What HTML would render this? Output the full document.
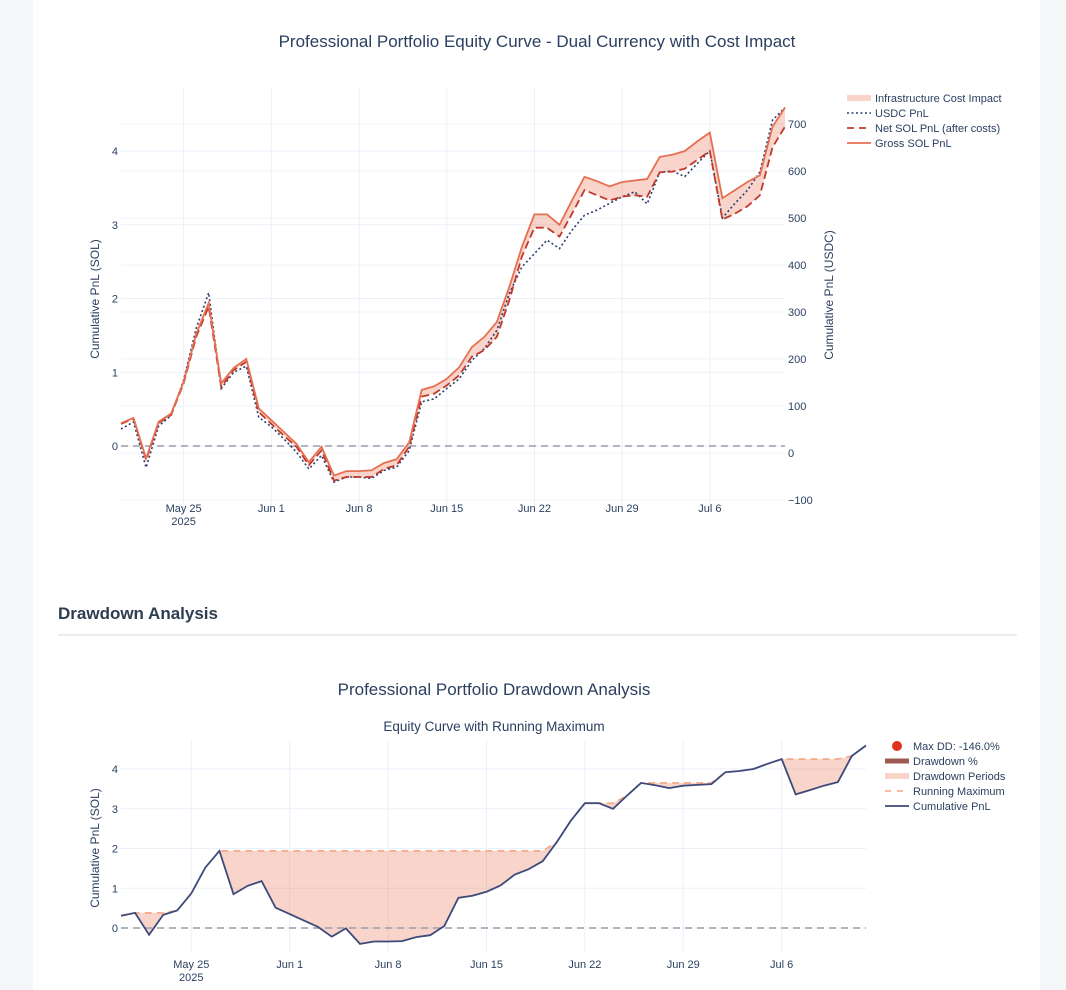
<!DOCTYPE html>
<html><head><meta charset="utf-8">
<style>
body{margin:0;background:#f5f6f8;font-family:"Liberation Sans",sans-serif;}
#card{position:absolute;left:33px;top:0;width:1007px;height:990px;background:#fff;}
svg{position:absolute;left:0;top:0;}
text{font-family:"Liberation Sans",sans-serif;}
</style></head><body>
<div id="card"></div>
<svg id="chart" width="1066" height="990">
<text x="537" y="47" text-anchor="middle" font-size="17" fill="#2a3f5f">Professional Portfolio Equity Curve - Dual Currency with Cost Impact</text>
<text x="58" y="619" font-size="17" font-weight="bold" fill="#2c3e50">Drawdown Analysis</text>
<line x1="58" y1="635" x2="1017" y2="635" stroke="#e3e5e8" stroke-width="1.5"/>
<text x="494" y="695" text-anchor="middle" font-size="17" fill="#2a3f5f">Professional Portfolio Drawdown Analysis</text>
<text x="494" y="731" text-anchor="middle" font-size="13.5" fill="#2a3f5f">Equity Curve with Running Maximum</text>
<g id="top"></g>
<g id="bot"></g>
</svg>
<script>
const startDate = "2025-05-20";
const grossSol = [0.31,0.38,-0.17,0.33,0.44,0.87,1.52,1.94,0.85,1.06,1.18,0.51,0.35,0.19,0.03,-0.22,-0.01,-0.40,-0.34,-0.34,-0.33,-0.23,-0.18,0.05,0.76,0.81,0.91,1.07,1.34,1.48,1.68,2.16,2.70,3.14,3.14,3.00,3.33,3.65,3.59,3.52,3.58,3.60,3.62,3.92,3.95,4.00,4.13,4.25,3.36,3.47,3.58,3.67,4.33,4.59];
const netSol = [0.30,0.37,-0.19,0.31,0.42,0.85,1.48,1.89,0.80,1.03,1.14,0.46,0.30,0.14,-0.01,-0.26,-0.06,-0.47,-0.42,-0.42,-0.42,-0.31,-0.26,-0.01,0.67,0.71,0.82,0.96,1.21,1.30,1.48,1.98,2.57,2.96,2.96,2.84,3.15,3.47,3.40,3.33,3.38,3.40,3.38,3.71,3.72,3.76,3.88,4.00,3.07,3.15,3.25,3.40,4.05,4.33];
const usdcPnl = [51,66,-31,57,80,155,265,341,137,172,185,76,56,30,2,-34,-5,-62,-51,-51,-54,-37,-30,5,109,115,137,158,197,222,261,340,396,424,453,435,474,506,517,531,545,556,530,597,600,588,616,643,500,531,559,598,708,735];
const xTicks = ["2025-05-25","2025-06-01","2025-06-08","2025-06-15","2025-06-22","2025-06-29","2025-07-06"];
const xTickLabels = ["May 25","Jun 1","Jun 8","Jun 15","Jun 22","Jun 29","Jul 6"];
const solTicks = [0,1,2,3,4];
const usdcTicks = [-100,0,100,200,300,400,500,600,700];
const ddSolTicks = [0,1,2,3,4];
const maxDDLabel = "Max DD: -146.0%";

const NS="http://www.w3.org/2000/svg";
function mk(parent,tag,attrs){const e=document.createElementNS(NS,tag);for(const k in attrs)e.setAttribute(k,attrs[k]);parent.appendChild(e);return e;}
const day=86400000, t0=Date.parse(startDate);
const dates=grossSol.map((_,i)=>t0+i*day);
const tLast=dates[dates.length-1];

function drawAxesX(g,xs,yTop,yBot,labY){
  xTicks.forEach((d,i)=>{const x=xs(Date.parse(d));
    const l=mk(g,'line',{x1:x,x2:x,y1:yTop,y2:yBot,stroke:'#ebf0f8'});
    
    const t=mk(g,'text',{x:x,y:labY,'text-anchor':'middle','font-size':11,fill:'#2a3f5f'});t.textContent=xTickLabels[i];
    
    if(i==0){const t2=mk(g,'text',{x:x,y:labY+13,'text-anchor':'middle','font-size':11,fill:'#2a3f5f'});t2.textContent='2025';
      }
  });
}
function pathD(xs,ys,vals){return vals.map((v,i)=>(i?'L':'M')+xs(dates[i]).toFixed(1)+','+ys(v).toFixed(1)).join('');}

// ---- top chart
(function(){
 const g=document.getElementById('top');
 const L=121,R=785,T=88,B=510;
 const xs=d=>L+(d-t0)/(tLast-t0)*(R-L);
 const ys=v=>446-v*73.75;
 const yu=v=>453-v*0.47;
 usdcTicks.forEach(v=>{const y=yu(v);const l=mk(g,'line',{x1:L,x2:R,y1:y,y2:y,stroke:'#f0f3f8'});
   
   const t=mk(g,'text',{x:R+3,y:y+4,'font-size':11,fill:'#2a3f5f'});t.textContent=v<0?'−'+(-v):v;
   });
 solTicks.forEach(v=>{const y=ys(v);const l=mk(g,'line',{x1:L,x2:R,y1:y,y2:y,stroke:'#ebf0f8'});
   
   const t=mk(g,'text',{x:L-3,y:y+4,'text-anchor':'end','font-size':11,fill:'#2a3f5f'});t.textContent=v;
   });
 drawAxesX(g,xs,T,B,512);
 let z=mk(g,'line',{x1:L,x2:R,y1:ys(0),y2:ys(0),stroke:'#9a9eaa','stroke-dasharray':'7,5','stroke-width':1.5});
 
 let fd=pathD(xs,ys,grossSol);
 for(let i=netSol.length-1;i>=0;i--)fd+='L'+xs(dates[i]).toFixed(1)+','+ys(netSol[i]).toFixed(1);
 let f=mk(g,'path',{d:fd+'Z',fill:'rgba(231,111,81,0.3)',stroke:'none'});
 
 let u=mk(g,'path',{d:pathD(xs,v=>yu(v),usdcPnl),fill:'none',stroke:'#2c3e70','stroke-width':1.6,'stroke-dasharray':'2,2.5'});
 
 let n=mk(g,'path',{d:pathD(xs,ys,netSol),fill:'none',stroke:'#c0392b','stroke-width':1.8,'stroke-dasharray':'8,4'});
 
 let gr=mk(g,'path',{d:pathD(xs,ys,grossSol),fill:'none',stroke:'#e76f51','stroke-width':1.8});
 
 let a=mk(g,'text',{x:0,y:0,'font-size':12,fill:'#2a3f5f','text-anchor':'middle',transform:'translate(99,299) rotate(-90)'});a.textContent='Cumulative PnL (SOL)';
 
 let a2=mk(g,'text',{x:0,y:0,'font-size':12,fill:'#2a3f5f','text-anchor':'middle',transform:'translate(833,295) rotate(-90)'});a2.textContent='Cumulative PnL (USDC)';
 
 const leg=[['Infrastructure Cost Impact','band'],['USDC PnL','dot'],['Net SOL PnL (after costs)','dash'],['Gross SOL PnL','solid']];
 leg.forEach((e,i)=>{const y=98+i*15;const lg=mk(g,'g',{});
   
   if(e[1]=='band')mk(lg,'rect',{x:847,y:y-3,width:24,height:6,fill:'rgba(231,111,81,0.3)'});
   if(e[1]=='dot')mk(lg,'line',{x1:847,x2:871,y1:y,y2:y,stroke:'#2c3e70','stroke-width':1.6,'stroke-dasharray':'2,2.5'});
   if(e[1]=='dash')mk(lg,'line',{x1:847,x2:871,y1:y,y2:y,stroke:'#c0392b','stroke-width':1.8,'stroke-dasharray':'7,5'});
   if(e[1]=='solid')mk(lg,'line',{x1:847,x2:871,y1:y,y2:y,stroke:'#e76f51','stroke-width':1.8});
   const t=mk(lg,'text',{x:875,y:y+4,'font-size':11,fill:'#2a3f5f'});t.textContent=e[0];});
})();

// ---- bottom chart
(function(){
 const g=document.getElementById('bot');
 const L=121,R=866,T=740,B=952;
 const xs=d=>L+(d-t0)/(tLast-t0)*(R-L);
 const ys=v=>928-v*39.75;
 ddSolTicks.forEach(v=>{const y=ys(v);const l=mk(g,'line',{x1:L,x2:R,y1:y,y2:y,stroke:'#ebf0f8'});
   
   const t=mk(g,'text',{x:L-3,y:y+4,'text-anchor':'end','font-size':11,fill:'#2a3f5f'});t.textContent=v;
   });
 drawAxesX(g,xs,T,B,968);
 const runMax=[];let m=-1e9;grossSol.forEach(v=>{m=Math.max(m,v);runMax.push(m);});
 let fd=pathD(xs,ys,runMax);
 for(let i=grossSol.length-1;i>=0;i--)fd+='L'+xs(dates[i]).toFixed(1)+','+ys(grossSol[i]).toFixed(1);
 let f=mk(g,'path',{d:fd+'Z',fill:'rgba(231,111,81,0.3)'});
 
 let z=mk(g,'line',{x1:L,x2:R,y1:ys(0),y2:ys(0),stroke:'#9a9eaa','stroke-dasharray':'7,5','stroke-width':1.5});
 
 let rm=mk(g,'path',{d:pathD(xs,ys,runMax),fill:'none',stroke:'#f4a582','stroke-width':1.6,'stroke-dasharray':'7,5'});
 
 let c=mk(g,'path',{d:pathD(xs,ys,grossSol),fill:'none',stroke:'#3d4a7a','stroke-width':1.8});
 
 let a=mk(g,'text',{x:0,y:0,'font-size':12,fill:'#2a3f5f','text-anchor':'middle',transform:'translate(99,848) rotate(-90)'});a.textContent='Cumulative PnL (SOL)';
 
 const leg=[[maxDDLabel,'dot'],['Drawdown %','thick'],['Drawdown Periods','band'],['Running Maximum','dash'],['Cumulative PnL','solid']];
 leg.forEach((e,i)=>{const y=746+i*15;const lg=mk(g,'g',{});
   
   if(e[1]=='dot')mk(lg,'circle',{cx:897,cy:y,r:5,fill:'#e0301e'});
   if(e[1]=='thick')mk(lg,'rect',{x:885,y:y-2.5,width:24,height:5,fill:'#9c5b50'});
   if(e[1]=='band')mk(lg,'rect',{x:885,y:y-3,width:24,height:6,fill:'rgba(231,111,81,0.3)'});
   if(e[1]=='dash')mk(lg,'line',{x1:885,x2:909,y1:y,y2:y,stroke:'#f4a582','stroke-width':1.5,'stroke-dasharray':'6,6'});
   if(e[1]=='solid')mk(lg,'line',{x1:885,x2:909,y1:y,y2:y,stroke:'#3d4a7a','stroke-width':1.8});
   const t=mk(lg,'text',{x:913,y:y+4,'font-size':11,fill:'#2a3f5f'});t.textContent=e[0];});
})();
</script>
</body></html>
